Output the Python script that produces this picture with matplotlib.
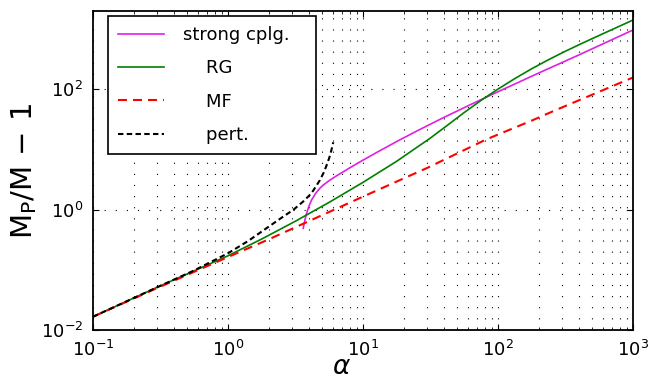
import matplotlib
matplotlib.use("Agg")
import matplotlib.pyplot as plt
from matplotlib.ticker import LogLocator, NullLocator, FixedLocator, LogFormatterSciNotation, NullFormatter

# --- data ---
alpha_sc = [3.61, 3.715, 3.828, 3.981, 4.169, 4.467, 4.797, 5.012, 5.623, 6.31, 7.943,
            10, 12.59, 17.78, 25.12, 39.81, 63.1, 100, 199.5, 398.1, 1000]
strong = [0.49, 0.676, 0.879, 1.148, 1.459, 1.871, 2.27, 2.5, 3.041, 3.597, 4.92,
          6.637, 8.872, 13.55, 20.32, 34.12, 56.1, 90.99, 185.4, 372.4, 966]

alpha_rg = [0.1, 0.3, 1, 1.778, 3.162, 5.623, 10, 17.78, 31.62, 42.17, 56.23, 75.0,
            100, 133.4, 177.8, 237.1, 316.2, 421.7, 562.3, 1000]
rg = [0.0166, 0.0515, 0.171, 0.325, 0.643, 1.324, 2.838, 6.37, 15.5, 25.2, 41.1, 65.5,
      100.7, 150.7, 219.3, 310.5, 429.5, 583.4, 785.2, 1413]

alpha_mf = [0.1, 0.3, 1, 2, 4.5, 9.5, 20, 30, 82, 180, 270, 540, 1000]
mf = [0.0166, 0.05, 0.163, 0.32, 0.73, 1.56, 3.3, 4.95, 14.7, 30.5, 45.5, 87.6, 157]

alpha_pt = [0.1, 0.3162, 0.5623, 1, 1.413, 1.828, 2.512, 3.062, 3.614, 3.981, 4.276,
            4.797, 5.129, 5.383, 5.623, 5.821, 6.026]
pert = [0.0166, 0.0543, 0.0977, 0.1884, 0.302, 0.4519, 0.7413, 1.0, 1.371, 1.698, 2.065,
        3.09, 4.169, 5.495, 7.244, 9.55, 13.18]

labels = ["strong cplg.   ", "    RG", "    MF", "    pert."]
xticks = [1e-1, 1e0, 1e1, 1e2, 1e3]
yticks = [1e-2, 1e0, 1e2]

fig = plt.figure(figsize=(6.61, 3.81), dpi=100)
ax = fig.add_axes([0.1407, 0.1339, 0.8169, 0.8373])

ax.plot(alpha_sc, strong, color='#e020e0', lw=1.2, label=labels[0])
ax.plot(alpha_rg, rg, color='#008000', lw=1.2, label=labels[1])
ax.plot(alpha_mf, mf, color='#ff0000', lw=1.5, dashes=(4.3, 2.9), label=labels[2])
ax.plot(alpha_pt, pert, color='k', lw=1.5, dashes=(2.6, 1.6), label=labels[3])

ax.set_xscale('log')
ax.set_yscale('log')
ax.set_xlim(0.1, 1000)
ax.set_ylim(0.01, 2000)

ax.xaxis.set_major_locator(FixedLocator(xticks))
ax.xaxis.set_major_formatter(LogFormatterSciNotation())
ax.xaxis.set_minor_locator(LogLocator(base=10, subs=range(2, 10), numticks=20))
ax.xaxis.set_minor_formatter(NullFormatter())
ax.yaxis.set_major_locator(FixedLocator(yticks))
ax.yaxis.set_major_formatter(LogFormatterSciNotation())
ax.yaxis.set_minor_locator(NullLocator())

ax.tick_params(which='both', direction='in', top=True, right=True, labelsize=13)
ax.tick_params(which='major', length=4, width=0.8)
ax.tick_params(which='minor', length=2, width=0.6)
ax.tick_params(axis='x', pad=7)
ax.tick_params(axis='y', pad=7)

gl = dict(linestyle=(0, (1, 9)), lw=0.8, color='k')
ax.grid(True, which='both', axis='x', **gl)
ax.grid(True, which='major', axis='y', **gl)

for s in ax.spines.values():
    s.set_linewidth(1.3)

ax.set_ylabel(r'$\mathrm{M_P/M}\,-\,1$', fontsize=21)
ax.set_xlabel(r'$\alpha$', fontsize=19)
ax.xaxis.set_label_coords(0.461, -0.075)
ax.yaxis.set_label_coords(-0.10, 0.5)

leg = ax.legend(loc='upper left', bbox_to_anchor=(0.027, 0.984), borderaxespad=0,
                fontsize=13, handlelength=2.55, handletextpad=1.05, labelspacing=0.85,
                borderpad=0.55, fancybox=False, framealpha=1, edgecolor='k')
leg.get_frame().set_linewidth(1.2)

fig.savefig('out.png', dpi=100)
